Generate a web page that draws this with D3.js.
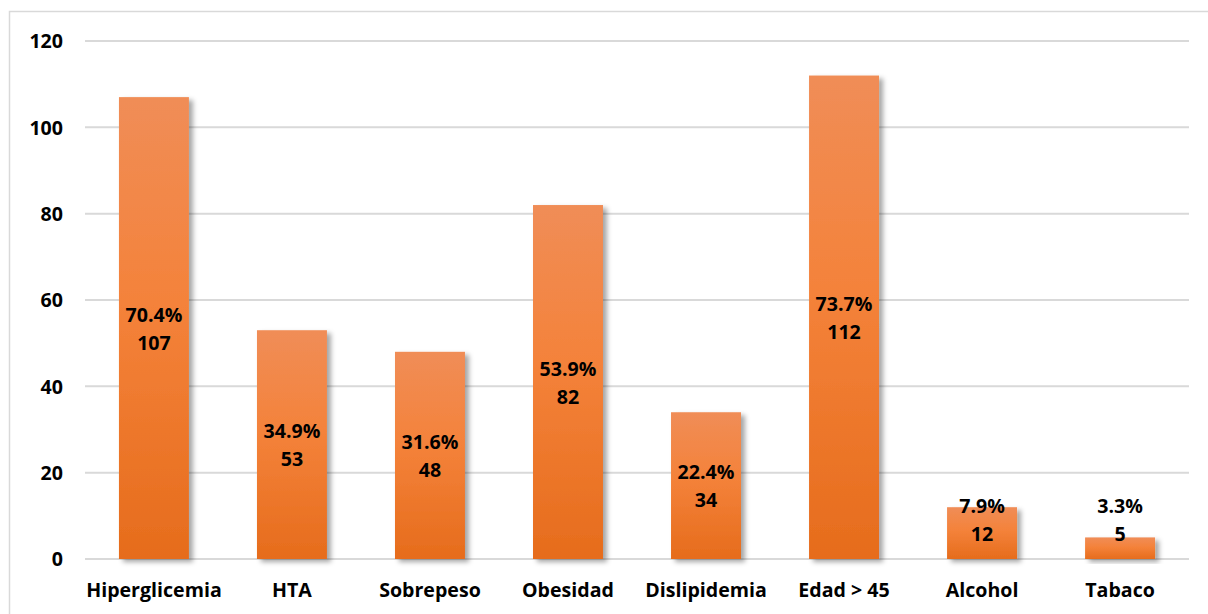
<!DOCTYPE html>
<html>
<head>
<meta charset="utf-8">
<script src="https://cdn.jsdelivr.net/npm/d3@7"></script>
<style>
  body { margin: 0; background: #fff; }
  text { font-family: "Open Sans", Lato, sans-serif; font-weight: bold; fill: #000; }
</style>
</head>
<body>
<div id="chart"></div>
<script>
// chart values
var categories = ["Hiperglicemia", "HTA", "Sobrepeso", "Obesidad", "Dislipidemia", "Edad > 45", "Alcohol", "Tabaco"];
var counts = [107, 53, 48, 82, 34, 112, 12, 5];
var percents = ["70.4%", "34.9%", "31.6%", "53.9%", "22.4%", "73.7%", "7.9%", "3.3%"];
var yTicks = [0, 20, 40, 60, 80, 100, 120];

var W = 1208, H = 614;
var plot = { left: 85, right: 1189, top: 41, bottom: 559 };
var fontSize = "19.6px";

var svg = d3.select("#chart").append("svg")
  .attr("width", W)
  .attr("height", H);

var defs = svg.append("defs");
var grad = defs.append("linearGradient")
  .attr("id", "barGrad")
  .attr("x1", 0).attr("y1", 0).attr("x2", 0).attr("y2", 1);
grad.append("stop").attr("offset", "0%").attr("stop-color", "#F08D57");
grad.append("stop").attr("offset", "45%").attr("stop-color", "#F4823A");
grad.append("stop").attr("offset", "100%").attr("stop-color", "#E66C1C");

var shadow = defs.append("filter")
  .attr("id", "shadow")
  .attr("x", "-20%").attr("y", "-10%")
  .attr("width", "150%").attr("height", "130%");
shadow.append("feDropShadow")
  .attr("dx", 4).attr("dy", 3)
  .attr("stdDeviation", 2.5)
  .attr("flood-color", "#000")
  .attr("flood-opacity", 0.35);

// outer border
svg.append("rect")
  .attr("x", 9.5).attr("y", 11.5)
  .attr("width", W).attr("height", H)
  .attr("fill", "none")
  .attr("stroke", "#d9d9d9")
  .attr("stroke-width", 1.5);

var x = d3.scaleBand()
  .domain(categories)
  .range([plot.left, plot.right])
  .paddingInner(0.493)
  .paddingOuter(0.246);

var y = d3.scaleLinear()
  .domain([0, 120])
  .range([plot.bottom, plot.top]);

// gridlines
svg.append("g")
  .selectAll("line")
  .data(yTicks)
  .join("line")
  .attr("x1", plot.left).attr("x2", plot.right)
  .attr("y1", function(d) { return y(d); })
  .attr("y2", function(d) { return y(d); })
  .attr("stroke", "#d9d9d9")
  .attr("stroke-width", 2);

// y axis labels
var yAxis = svg.append("g")
  .attr("transform", "translate(" + plot.left + ",0)")
  .call(d3.axisLeft(y).tickValues(yTicks).tickSize(0).tickPadding(22));
yAxis.select(".domain").remove();
yAxis.selectAll("text").style("font-size", fontSize).attr("dy", "0.35em");

// bars
svg.append("g")
  .selectAll("rect")
  .data(counts)
  .join("rect")
  .attr("x", function(d, i) { return x(categories[i]); })
  .attr("y", function(d) { return y(d); })
  .attr("width", x.bandwidth())
  .attr("height", function(d) { return y(0) - y(d); })
  .attr("fill", "url(#barGrad)")
  .attr("filter", "url(#shadow)");

// x axis labels
var xAxis = svg.append("g")
  .attr("transform", "translate(0," + plot.bottom + ")")
  .call(d3.axisBottom(x).tickSize(0).tickPadding(24));
xAxis.select(".domain").remove();
xAxis.selectAll("text").style("font-size", fontSize);

// data labels (centered in bar, pushed up when the bar is too short)
var labels = svg.append("g")
  .selectAll("g")
  .data(counts)
  .join("g")
  .attr("transform", function(d, i) {
    var cy = Math.min((y(0) + y(d)) / 2, y(0) - 40);
    return "translate(" + (x(categories[i]) + x.bandwidth() / 2) + "," + cy + ")";
  });
labels.append("text")
  .attr("text-anchor", "middle")
  .attr("y", -13)
  .attr("dy", "0.35em")
  .style("font-size", fontSize)
  .text(function(d, i) { return percents[i]; });
labels.append("text")
  .attr("text-anchor", "middle")
  .attr("y", 15)
  .attr("dy", "0.35em")
  .style("font-size", fontSize)
  .text(function(d) { return d; });
</script>
</body>
</html>
